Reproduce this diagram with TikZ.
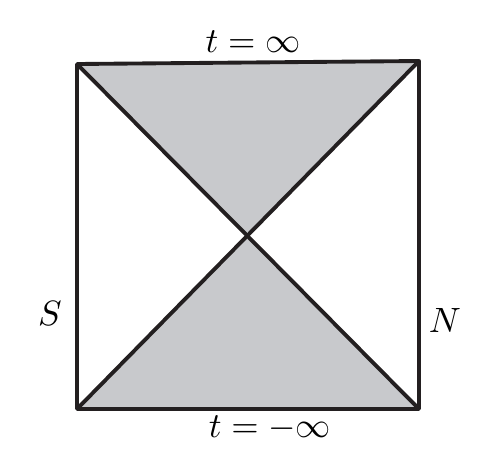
\documentclass[tikz,border=0pt]{standalone}
\definecolor{wedgegray}{RGB}{200,201,204}
\definecolor{edgeink}{RGB}{35,31,32}
\tikzset{
	edge/.style={draw=edgeink, line width=1.1pt, line join=round},
	lbl/.style={font=\fontsize{9.8}{12}\selectfont, inner sep=1pt}
}
\begin{document}
\begin{tikzpicture}[x=0.01cm, y=-0.01cm]
	\useasboundingbox (0,0) rectangle (485,472);
	\path (77,64) coordinate (TL)
	(419,61) coordinate (TR)
	(419,409) coordinate (BR)
	(77,409) coordinate (BL);
	\coordinate (O) at (intersection of TL--BR and TR--BL);
	\fill[wedgegray] (TL) -- (TR) -- (O) -- cycle;
	\fill[wedgegray] (BL) -- (BR) -- (O) -- cycle;
	\draw[edge] (TL) -- (TR) -- (BR) -- (BL) -- cycle;
	\draw[edge] (TL) -- (BR);
	\draw[edge] (TR) -- (BL);
	\node[lbl] (top) at (253,42) {$t=\infty$};
	\node[lbl] (bottom) at (270,428) {$t=-\infty$};
	\node[lbl] (S) at (50,313) {$S$};
	\node[lbl] (N) at (445,320) {$N$};
\end{tikzpicture}
\end{document}
